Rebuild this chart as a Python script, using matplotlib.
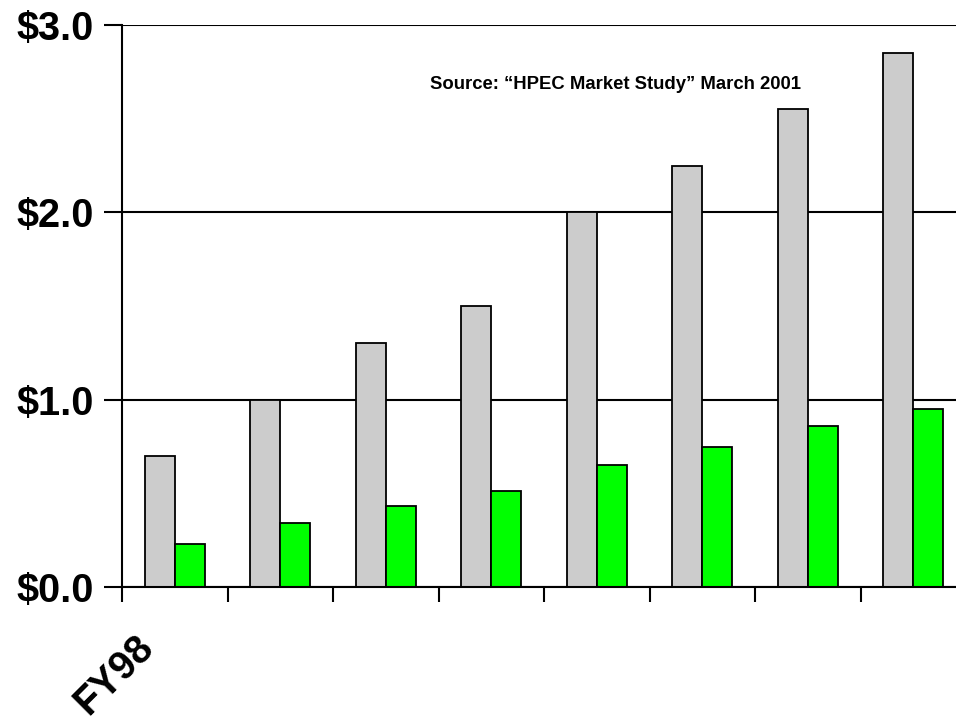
import matplotlib
matplotlib.use("Agg")
import matplotlib.pyplot as plt
import numpy as np

plt.rcParams['font.family'] = ['Liberation Sans', 'DejaVu Sans']

# market size per fiscal year, $B
years = ["FY98", "FY99", "FY00", "FY01", "FY02", "FY03", "FY04", "FY05"]
total_market = [0.70, 1.00, 1.30, 1.50, 2.00, 2.25, 2.55, 2.85]
hpec_share = [0.23, 0.34, 0.43, 0.51, 0.65, 0.75, 0.86, 0.95]
y_ticks = [0.0, 1.0, 2.0, 3.0]
y_labels = ["$0.0", "$1.0", "$2.0", "$3.0"]

fig = plt.figure(figsize=(9.56, 7.23), dpi=100)
ax = fig.add_axes([122/956, 136/723, 844/956, 562/723])

x = np.arange(len(years)) + 0.5
w = 0.284
ax.bar(x - w/2, total_market, w, color="#cccccc", edgecolor="black", linewidth=1.3, zorder=3)
ax.bar(x + w/2, hpec_share, w, color="#00ff00", edgecolor="black", linewidth=1.3, zorder=3)

ax.set_xlim(0, len(years))
ax.set_ylim(0, 3.0)
ax.set_yticks(y_ticks)
ax.set_yticklabels(y_labels, fontsize=28.5, fontweight="bold")
ax.set_xticks(np.arange(len(years)))
ax.set_xticklabels([])
ax.tick_params(axis="y", length=13, width=1.5, pad=7)
ax.tick_params(axis="x", length=11, width=1.5)
ax.yaxis.grid(True, color="black", linewidth=1.5, zorder=0)

for s in ["top", "right"]:
    ax.spines[s].set_visible(False)
ax.spines["left"].set_linewidth(1.5)
ax.spines["bottom"].set_linewidth(1.5)
ax.spines["bottom"].set_zorder(4)

ax.text(4.68, 2.685, "Source: \u201cHPEC Market Study\u201d March 2001",
        ha="center", va="center", fontsize=13.3, fontweight="bold")

fig.text(161/956, 1 - 628/723, years[0], rotation=45, ha="right", va="top",
         fontsize=28.5, fontweight="bold")

fig.savefig("out.png", dpi=100)
